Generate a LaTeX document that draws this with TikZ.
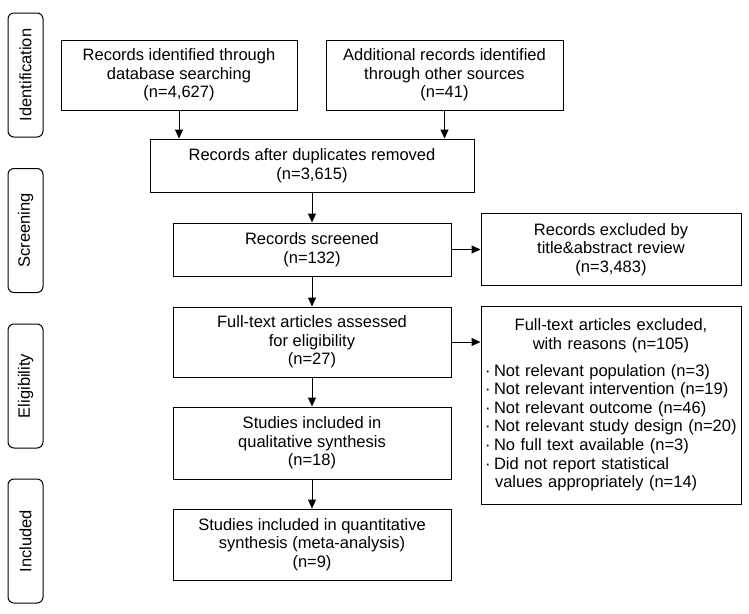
\documentclass[tikz,border=0pt]{standalone}
\usepackage{fontspec}
\setmainfont{Liberation Sans}
\usetikzlibrary{positioning,arrows.meta}

\begin{document}
\begin{tikzpicture}[x=1pt,y=1pt,
        font=\fontsize{16.5pt}{18.6pt}\selectfont,
        box/.style={draw, line width=1pt, align=center, minimum width=278pt},
        phase/.style={draw, line width=1pt, rounded corners=6pt, rotate=90, minimum width=124pt, minimum height=35pt},
        arr/.style={line width=1pt, -{Triangle[width=8pt,length=9pt]}}]
        \useasboundingbox (0,0) rectangle (749,-613);
        % phases
        \node (idlab) [phase] at (25.5,-75) {Identification};
        \node (scrlab) [phase] at (25.5,-230.5) {Screening};
        \node (elilab) [phase] at (25.5,-386) {Eligibility};
        \node (inclab) [phase] at (25.5,-541) {Included};
        % main column
        \node (screen) [box, minimum height=53pt] at (312,-249.5) {Records screened\\(n=132)};
        \node (dup) [box, minimum width=324pt, minimum height=53pt, above=30pt of screen] {Records after duplicates removed\\(n=3,615)};
        \node (ident) [box, minimum width=236pt, minimum height=70pt] at (179,-75) {Records identified through\\database searching\\(n=4,627)};
        \node (other) [box, minimum width=237pt, minimum height=70pt] at (444.5,-75) {Additional records identified\\through other sources\\(n=41)};
        \node (full) [box, minimum height=70pt, below=30pt of screen] {Full-text articles assessed\\for eligibility\\(n=27)};
        \node (qual) [box, minimum height=72pt, below=29pt of full] {Studies included in\\qualitative synthesis\\(n=18)};
        \node (quant) [box, minimum height=71pt, below=29pt of qual] {Studies included in quantitative\\synthesis (meta-analysis)\\(n=9)};
        % exclusions
        \node (exclta) [box, minimum width=260pt, minimum height=72pt, right=29pt of screen] {Records excluded by\\title\&abstract review\\(n=3,483)};
        \node (exclft) [draw, line width=1pt, text width=256pt, inner xsep=2pt, minimum height=198pt, right=29pt of full.north east, anchor=north west, yshift=1pt] {%
            {\centering Full-text articles excluded,\\with reasons (n=105)\par}\vspace{8pt}
            \raggedright
            \makebox[11pt][l]{\hspace{2pt}·}Not relevant population (n=3)\\
            \makebox[11pt][l]{\hspace{2pt}·}Not relevant intervention (n=19)\\
            \makebox[11pt][l]{\hspace{2pt}·}Not relevant outcome (n=46)\\
            \makebox[11pt][l]{\hspace{2pt}·}Not relevant study design (n=20)\\
            \makebox[11pt][l]{\hspace{2pt}·}No full text available (n=3)\\
            \makebox[11pt][l]{\hspace{2pt}·}Did not report statistical\\
            \hspace*{12pt}values appropriately (n=14)};
        % arrows
        \draw[arr] (ident.south) -- (ident.south |- dup.north);
        \draw[arr] (other.south) -- (other.south |- dup.north);
        \draw[arr] (dup) -- (screen);
        \draw[arr] (screen) -- (full);
        \draw[arr] (full) -- (qual);
        \draw[arr] (qual) -- (quant);
        \draw[arr] (screen) -- (exclta);
        \draw[arr] (full.east) -- (full.east -| exclft.west);
    \end{tikzpicture}
\end{document}
